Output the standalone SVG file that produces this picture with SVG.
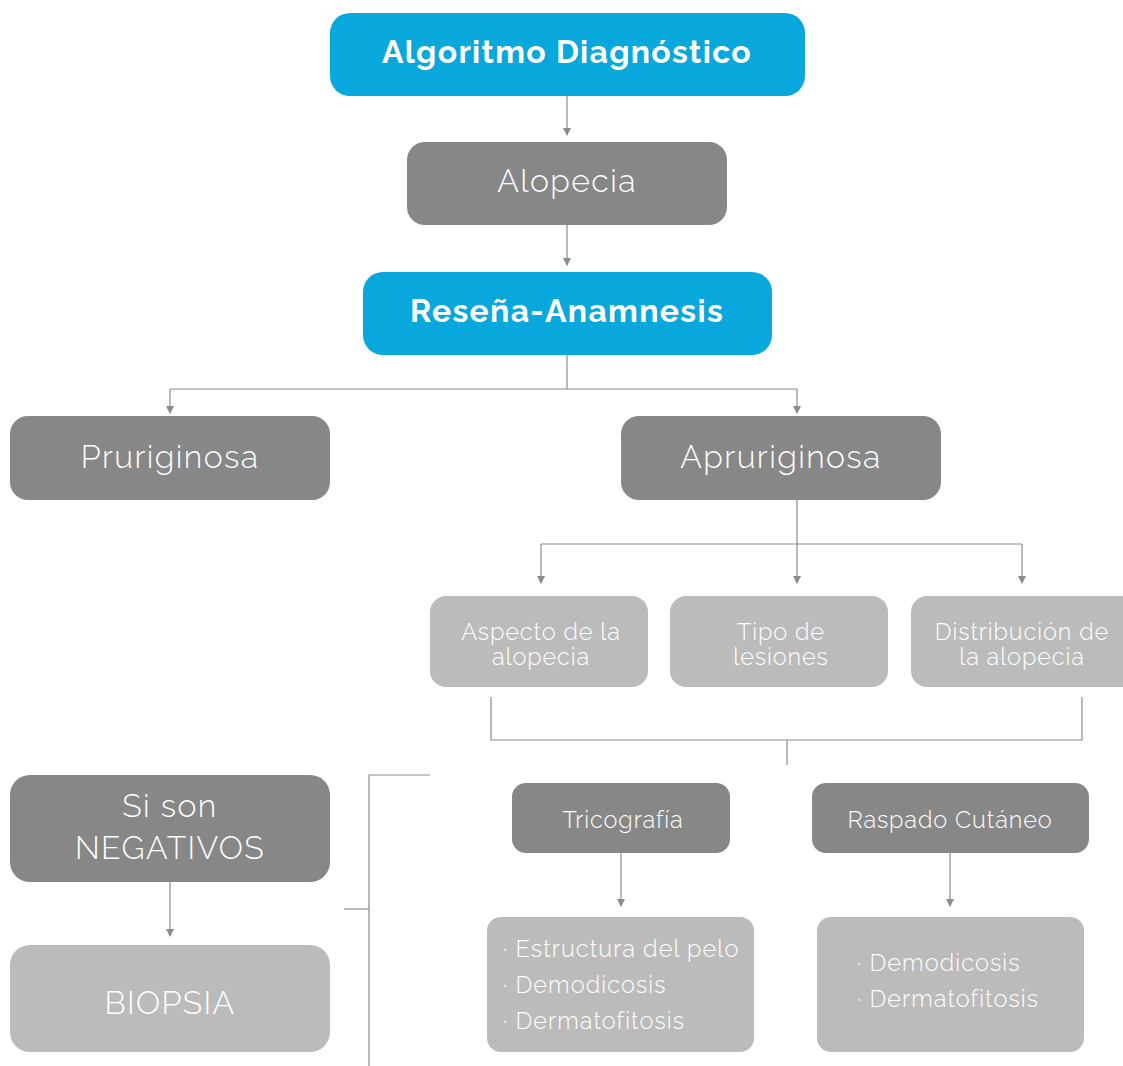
<svg xmlns="http://www.w3.org/2000/svg" width="1123" height="1066" viewBox="0 0 1123 1066">
<style>
.blue{fill:#08a7dc}
.dark{fill:#878787}
.light{fill:#bbbbbb}
text{font-family:Raleway,Lato,"Open Sans","Liberation Sans",sans-serif;fill:#fff;text-anchor:middle}
.b{font-weight:700;font-size:32px;letter-spacing:1.3px}
.l{font-weight:300;font-size:32px;letter-spacing:1.4px}
.m{font-weight:300;font-size:23.5px;letter-spacing:0.9px}
.s{font-weight:300;font-size:23.5px;letter-spacing:1.1px;text-anchor:start}
.conn line,.conn path{stroke:#8c8c8c;stroke-width:1.2;fill:none}
</style>
<defs>
<marker id="ad" markerWidth="8" markerHeight="8" refX="4" refY="7" orient="0" markerUnits="userSpaceOnUse" viewBox="0 0 8 8">
<path d="M0,0 L8,0 L4,8 Z" fill="#8c8c8c"/>
</marker>
</defs>
<g class="conn">
<line x1="567" y1="96" x2="567" y2="135" marker-end="url(#ad)"/>
<line x1="567" y1="225" x2="567" y2="265" marker-end="url(#ad)"/>
<line x1="567" y1="355" x2="567" y2="389"/>
<line x1="170" y1="389" x2="797" y2="389"/>
<line x1="170" y1="389" x2="170" y2="413" marker-end="url(#ad)"/>
<line x1="797" y1="389" x2="797" y2="413" marker-end="url(#ad)"/>
<line x1="797" y1="500" x2="797" y2="583" marker-end="url(#ad)"/>
<line x1="541" y1="544" x2="1022" y2="544"/>
<line x1="541" y1="544" x2="541" y2="583" marker-end="url(#ad)"/>
<line x1="1022" y1="544" x2="1022" y2="583" marker-end="url(#ad)"/>
<path d="M491,697 V740 H1082 V697"/>
<line x1="787" y1="740" x2="787" y2="765"/>
<path d="M430,775 H369 V1066"/>
<line x1="344" y1="909" x2="369" y2="909"/>
<line x1="170" y1="882" x2="170" y2="936" marker-end="url(#ad)"/>
<line x1="621" y1="853" x2="621" y2="906" marker-end="url(#ad)"/>
<line x1="950" y1="853" x2="950" y2="906" marker-end="url(#ad)"/>
</g>
<g id="n-algoritmo"><rect class="blue" x="330" y="13" width="475" height="83" rx="20"/><text class="b" x="567" y="63">Algoritmo Diagnóstico</text></g>
<g id="n-alopecia"><rect class="dark" x="407" y="142" width="320" height="83" rx="18"/><text class="l" x="567" y="192">Alopecia</text></g>
<g id="n-resena"><rect class="blue" x="363" y="272" width="409" height="83" rx="20"/><text class="b" x="567" y="322">Reseña-Anamnesis</text></g>
<g id="n-pruriginosa"><rect class="dark" x="10" y="416" width="320" height="84" rx="18"/><text class="l" x="170" y="468">Pruriginosa</text></g>
<g id="n-apruriginosa"><rect class="dark" x="621" y="416" width="320" height="84" rx="18"/><text class="l" x="781" y="468">Apruriginosa</text></g>
<g id="n-aspecto"><rect class="light" x="430" y="596" width="218" height="91" rx="16"/><text class="m" x="541" y="640">Aspecto de la</text><text class="m" x="541" y="665">alopecia</text></g>
<g id="n-tipo"><rect class="light" x="670" y="596" width="218" height="91" rx="16"/><text class="m" x="781" y="640">Tipo de</text><text class="m" x="781" y="665">lesiones</text></g>
<g id="n-distribucion"><rect class="light" x="911" y="596" width="230" height="91" rx="16"/><text class="m" x="1022" y="640">Distribución de</text><text class="m" x="1022" y="665">la alopecia</text></g>
<g id="n-negativos"><rect class="dark" x="10" y="775" width="320" height="107" rx="20"/><text class="l" x="170" y="817">Si son</text><text class="l" x="170" y="859">NEGATIVOS</text></g>
<g id="n-biopsia"><rect class="light" x="10" y="945" width="320" height="107" rx="20"/><text class="l" x="170" y="1014">BIOPSIA</text></g>
<g id="n-tricografia"><rect class="dark" x="512" y="783" width="218" height="70" rx="14"/><text class="m" x="623" y="828">Tricografía</text></g>
<g id="n-raspado"><rect class="dark" x="812" y="783" width="277" height="70" rx="14"/><text class="m" x="950" y="828">Raspado Cutáneo</text></g>
<g id="n-tric-list"><rect class="light" x="487" y="917" width="267" height="135" rx="14"/>
<text class="s" x="503" y="957">· Estructura del pelo</text><text class="s" x="503" y="993">· Demodicosis</text><text class="s" x="503" y="1029">· Dermatofitosis</text></g>
<g id="n-rasp-list"><rect class="light" x="817" y="917" width="267" height="135" rx="14"/>
<text class="s" x="857" y="971">· Demodicosis</text><text class="s" x="857" y="1007">· Dermatofitosis</text></g>
</svg>
